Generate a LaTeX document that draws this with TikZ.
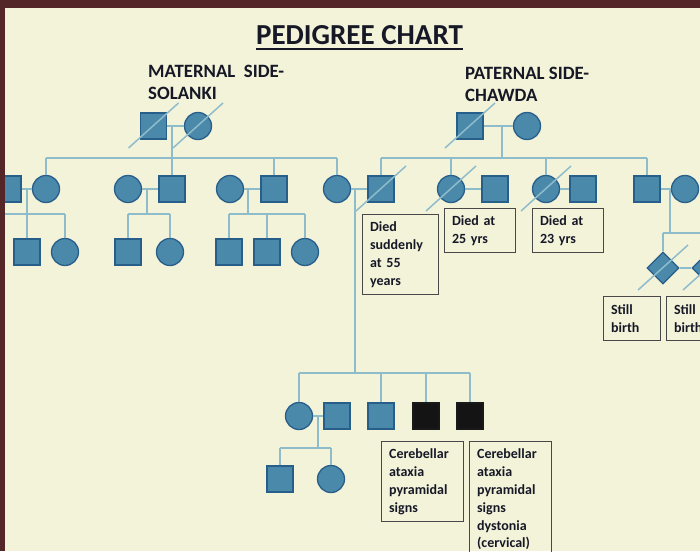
\documentclass[tikz,border=0pt]{standalone}
\usepackage{fontspec}
\setmainfont{Carlito}
\usetikzlibrary{shapes.geometric}

\definecolor{bgcream}{RGB}{243,243,218}
\definecolor{framebrown}{RGB}{84,38,40}
\definecolor{shapefill}{RGB}{74,137,170}
\definecolor{shapeedge}{RGB}{40,94,138}
\definecolor{linkblue}{RGB}{143,188,202}
\definecolor{inkdark}{RGB}{22,24,38}
\definecolor{boxedge}{RGB}{72,72,72}

\begin{document}
\begin{tikzpicture}[x=1pt,y=-1pt,
    male/.style={draw=shapeedge,fill=shapefill,line width=1.3pt,minimum size=26pt,inner sep=0pt},
    female/.style={male,circle,minimum size=27pt},
    affected/.style={male,draw=black!90,fill=black!92},
    stillborn/.style={male,diamond,minimum size=32pt},
    link/.style={draw=linkblue,line width=1.5pt},
    slash/.style={link},
    sidetext/.style={anchor=north west,inner sep=0pt,align=left,text=inkdark,font=\fontsize{18.8}{22}\selectfont\bfseries},
    notebox/.style={draw=boxedge,line width=1.2pt,anchor=north west,inner xsep=7.5pt,inner ysep=0pt,align=left,text=inkdark,font=\fontsize{14}{17.8}\selectfont\bfseries}]

    \useasboundingbox (0,0) rectangle (700,551);
    \clip (0,0) rectangle (700,551);
    \fill[bgcream] (0,0) rectangle (700,551);

    % title and the two sides
    \node[font=\fontsize{29}{32}\selectfont\bfseries,text=inkdark,inner sep=0pt,anchor=base] (title) at (359.5,45) {PEDIGREE CHART};
    \draw[inkdark,line width=2pt] ([yshift=-4pt]title.base west) -- ([yshift=-4pt]title.base east);
    \node[sidetext] (matside) at (148,65) {MATERNAL\ \ SIDE-\\SOLANKI};
    \node[sidetext] (patside) at (465,67) {PATERNAL SIDE-\\CHAWDA};

    % these are the grandparents
    \node[male] (mgf) at (153.5,126) {};
    \node[female] (mgm) at (198,126) {};
    \node[male] (pgf) at (470,126) {};
    \node[female] (pgm) at (527,126) {};

    % second generation
    \node[male] (m1h) at (8,189) {};
    \node[female] (m1w) at (46,189) {};
    \node[female] (m2w) at (128,189) {};
    \node[male] (m2h) at (172,189) {};
    \node[female] (m3w) at (230,189) {};
    \node[male] (m3h) at (274,189) {};
    \node[female] (mum) at (337,189) {};
    \node[male] (dad) at (381,189) {};
    \node[female] (pa1) at (451,189) {};
    \node[male] (pa1h) at (495,189) {};
    \node[female] (pa2) at (546,189) {};
    \node[male] (pa2h) at (583,189) {};
    \node[male] (pa3) at (647,189) {};
    \node[female] (pa3w) at (685,189) {};

    % third generation
    \node[male] (c1a) at (27,252) {};
    \node[female] (c1b) at (65,252) {};
    \node[male] (c2a) at (128,252) {};
    \node[female] (c2b) at (170,252) {};
    \node[male] (c3a) at (229,252) {};
    \node[male] (c3b) at (267,252) {};
    \node[female] (c3c) at (305,252) {};
    \node[stillborn] (sb1) at (663,268) {};
    \node[stillborn] (sb2) at (708,268) {};
    \node[female] (sis) at (299,416) {};
    \node[male] (sish) at (337,416) {};
    \node[male] (bro) at (381,416) {};
    \node[affected] (pb1) at (426,416) {};
    \node[affected] (pb2) at (470,416) {};

    % fourth generation
    \node[male] (g1) at (280,479) {};
    \node[female] (g2) at (331,479) {};

    % where the sibship lines hang
    \coordinate (mj) at (172,158);
    \coordinate (pj) at (502,158);
    \coordinate (c1j) at (27,214);
    \coordinate (c1l) at (0,214);
    \coordinate (c2j) at (147,214);
    \coordinate (c3j) at (248,214);
    \coordinate (dj) at (355,373);
    \coordinate (sj) at (318,448);
    \coordinate (sbj) at (670,233);

    % couples
    \foreach \a/\b in {mgf/mgm,pgf/pgm,m1h/m1w,m2w/m2h,m3w/m3h,mum/dad,pa1/pa1h,pa2/pa2h,pa3/pa3w,sis/sish,sb1/sb2}
        \draw[link] (\a) -- (\b);

    % descent lines
    \foreach \jn/\a in {mj/mgf,pj/pgf,c1j/m1w,c2j/m2w,c3j/m3w,dj/mum,sj/sis,sbj/pa3}
        \draw[link] (\jn |- \a) -- (\jn);

    % sibship lines
    \draw[link] (m1w.north |- mj) -- (mum.north |- mj);
    \draw[link] (dad.north |- pj) -- (pa3.north |- pj);
    \draw[link] (c1l) -- (c1b.north |- c1j);
    \draw[link] (c2a.north |- c2j) -- (c2b.north |- c2j);
    \draw[link] (c3a.north |- c3j) -- (c3c.north |- c3j);
    \draw[link] (sis.north |- dj) -- (pb2.north |- dj);
    \draw[link] (g1.north |- sj) -- (g2.north |- sj);
    \draw[link] (sb1.north |- sbj) -- (sb2.north |- sbj);

    \foreach \kid/\jn in {m1w/mj,m2h/mj,m3h/mj,mum/mj,dad/pj,pa1/pj,pa2/pj,pa3/pj,c1a/c1j,c1b/c1j,c2a/c2j,c2b/c2j,c3a/c3j,c3b/c3j,c3c/c3j,sis/dj,bro/dj,pb1/dj,pb2/dj,g1/sj,g2/sj,sb1/sbj,sb2/sbj}
        \draw[link] (\kid.north) -- (\kid.north |- \jn);

    % deceased
    \foreach \p in {mgf,mgm,pgf,dad,pa1,pa2,sb1,sb2}
        \draw[slash] ([shift={(-25,22)}]\p.center) -- ([shift={(25,-23)}]\p.center);

    % notes
    \node[notebox,text width=61pt,minimum height=80pt] (died55) at (362,214) {Died\\suddenly\\at 55\\years};
    \node[notebox,text width=56pt,minimum height=44pt] (died25) at (444,208) {Died at\\25 yrs};
    \node[notebox,text width=56pt,minimum height=44pt] (died23) at (532,208) {Died at\\23 yrs};
    \node[notebox,text width=42pt,minimum height=44pt] (still1) at (603,296) {Still\\birth};
    \node[notebox,text width=42pt,minimum height=44pt] (still2) at (666,296) {Still\\birth};
    \node[notebox,text width=67pt,minimum height=80pt] (signs1) at (381,441) {Cerebellar\\ataxia\\pyramidal\\signs};
    \node[notebox,text width=67pt,minimum height=116pt] (signs2) at (469,441) {Cerebellar\\ataxia\\pyramidal\\signs\\dystonia\\(cervical)};

    % frame
    \fill[framebrown] (0,0) rectangle (700,8);
    \fill[framebrown] (0,0) rectangle (5,551);

\end{tikzpicture}
\end{document}
